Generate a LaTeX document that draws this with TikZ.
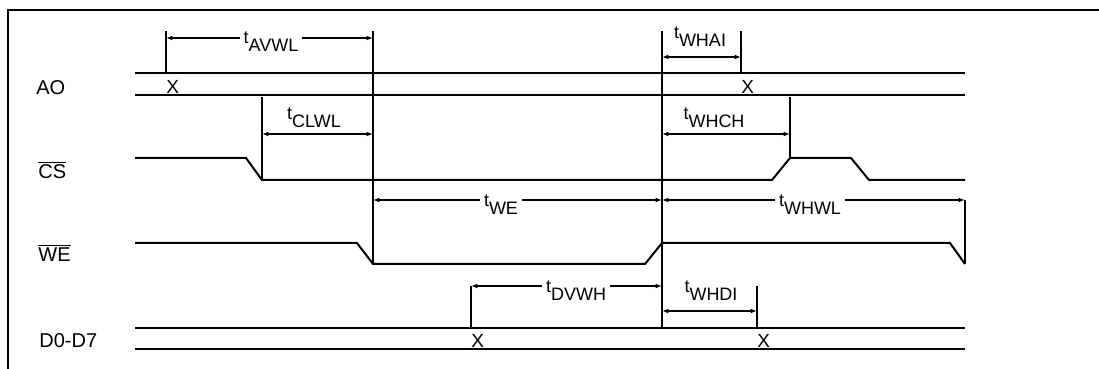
\documentclass[tikz,border=0pt]{standalone}
\usepackage{fontspec}
\setmainfont{Liberation Sans}
\usetikzlibrary{arrows.meta}
\newcommand{\tsub}[1]{t\raisebox{-4pt}{#1}}

\begin{document}
\begin{tikzpicture}[
    x=0.5pt, y=-0.5pt,
    sig/.style={line width=1pt},
    guide/.style={line width=0.55pt},
    dim/.style={{Latex[length=3.2pt,width=2.4pt]}-{Latex[length=3.2pt,width=2.4pt]}, line width=0.65pt},
    sname/.style={anchor=west, inner sep=0pt, font=\fontsize{10}{12}\selectfont},
    tname/.style={inner sep=1.5pt, font=\fontsize{9}{10}\selectfont},
    inl/.style={tname, fill=white, inner xsep=2pt},
    xmark/.style={anchor=base west, inner sep=0pt, font=\fontsize{9.5}{10}\selectfont}
]
  \useasboundingbox (0,0) rectangle (1099,369);
  \draw[line width=1pt] (8,369) -- (8,10) -- (1099,10);

  % signal names
  \node[sname] (ao) at (36,88) {AO};
  \node[sname] (cs) at (38,170) {$\overline{\mbox{CS}}$};
  \node[sname] (we) at (38,253) {$\overline{\mbox{WE}}$};
  \node[sname] (dd) at (39,341) {D0-D7};

  % waveforms
  \draw[sig] (135,73) -- (965,73);
  \draw[sig] (135,95) -- (965,95);
  \draw[sig] (135,158) -- (246,158) -- (262,180) -- (772,180) -- (790,158) -- (851,158) -- (869,180) -- (965,180);
  \draw[sig] (135,243) -- (357,243) -- (373,264) -- (645,264) -- (662,243) -- (950,243) -- (965,264);
  \draw[sig] (135,328) -- (965,328);
  \draw[sig] (135,349) -- (965,349);

  % edges and rows
  \coordinate (a1) at (166,73);
  \coordinate (a2) at (741,73);
  \coordinate (cs1) at (262,180);
  \coordinate (cs2) at (790,158);
  \coordinate (we1) at (373,264);
  \coordinate (we2) at (662,328);
  \coordinate (we3) at (965,264);
  \coordinate (d1) at (471,328);
  \coordinate (d2) at (757,328);
  \coordinate (top) at (0,31);
  \coordinate (ycl) at (0,97);
  \coordinate (yav) at (0,38);
  \coordinate (yha) at (0,57);
  \coordinate (ycw) at (0,134);
  \coordinate (ywe) at (0,200);
  \coordinate (ydv) at (0,286);
  \coordinate (yhd) at (0,311);

  \node[xmark] (xa1) at (a1 |- 0,94) {X};
  \node[xmark] (xa2) at (a2 |- 0,94) {X};
  \node[xmark] (xd1) at (d1 |- 0,347) {X};
  \node[xmark] (xd2) at (d2 |- 0,347) {X};

  % guide lines
  \draw[guide] (a1 |- top) -- (a1);
  \draw[guide] (a2 |- top) -- (a2);
  \draw[guide] (we1 |- top) -- (we1);
  \draw[guide] (we2 |- top) -- (we2);
  \draw[guide] (cs1 |- ycl) -- (cs1);
  \draw[guide] (cs2 |- ycl) -- (cs2);
  \draw[guide] (we3 |- ywe) -- (we3);
  \draw[guide] (d1 |- ydv) -- (d1);
  \draw[guide] (d2 |- ydv) -- (d2);

  % timing arrows
  \draw[dim] (a1 |- yav) -- (we1 |- yav);
  \draw[dim] (we2 |- yha) -- (a2 |- yha);
  \draw[dim] (cs1 |- ycw) -- (we1 |- ycw);
  \draw[dim] (we2 |- ycw) -- (cs2 |- ycw);
  \draw[dim] (we1 |- ywe) -- (we2 |- ywe);
  \draw[dim] (we2 |- ywe) -- (we3 |- ywe);
  \draw[dim] (d1 |- ydv) -- (we2 |- ydv);
  \draw[dim] (we2 |- yhd) -- (d2 |- yhd);

  \node[inl] (tavwl) at (271,42) {\tsub{AVWL}};
  \node[tname] (twhai) at (700,37) {\tsub{WHAI}};
  \node[tname] (tclwl) at (314,118) {\tsub{CLWL}};
  \node[tname] (twhch) at (714,118) {\tsub{WHCH}};
  \node[inl] (twe) at (501,205) {\tsub{WE}};
  \node[inl] (twhwl) at (810,205) {\tsub{WHWL}};
  \node[inl] (tdvwh) at (576,291) {\tsub{DVWH}};
  \node[tname] (twhdi) at (711,291) {\tsub{WHDI}};
\end{tikzpicture}
\end{document}
